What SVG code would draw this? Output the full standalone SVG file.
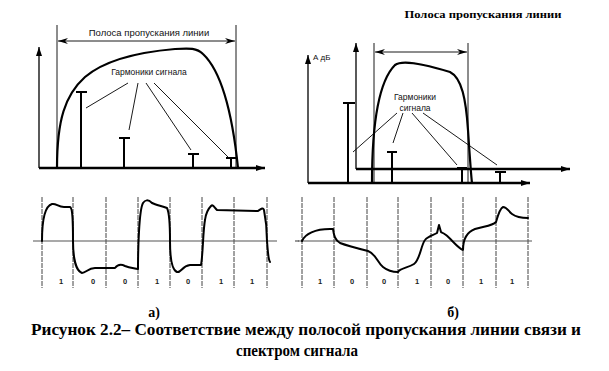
<svg xmlns="http://www.w3.org/2000/svg" width="609" height="371" viewBox="0 0 609 371">
<defs>
<marker id="ah" markerUnits="userSpaceOnUse" markerWidth="9" markerHeight="6" refX="9" refY="3" orient="auto-start-reverse"><path d="M0,0 L9,3 L0,6 z" fill="#000"/></marker>
<marker id="bh" markerUnits="userSpaceOnUse" markerWidth="10" markerHeight="6" refX="10" refY="3" orient="auto-start-reverse"><path d="M0,0 L10,3 L0,6 L3,3 z" fill="#000"/></marker>
<style>
.ax{stroke:#000;stroke-width:1.3;fill:none}
.axt{stroke:#000;stroke-width:2.4;fill:none}
.band{stroke:#000;stroke-width:0.9;fill:none}
.crv{stroke:#000;stroke-width:2.2;fill:none;stroke-linejoin:round;stroke-linecap:round}
.hm{stroke:#000;stroke-width:2;fill:none}
.ld{stroke:#000;stroke-width:0.9;fill:none}
.grid{stroke:#444;stroke-width:1;stroke-dasharray:5,1;fill:none}
.zero{stroke:#555;stroke-width:1.2;fill:none}
.wave{stroke:#000;stroke-width:2;fill:none;stroke-linejoin:round;stroke-linecap:round}
.lbl{font-family:"Liberation Sans",Arial,sans-serif;fill:#111}
.bit{font-family:"Liberation Sans",Arial,sans-serif;font-size:7.5px;fill:#222;text-anchor:middle;font-weight:bold}
.cap{font-family:"Liberation Serif","Times New Roman",serif;font-weight:bold;fill:#000}
</style>
</defs>

<g id="spectrum-a">
<line class="band" x1="57" y1="25" x2="57" y2="168"/>
<line class="band" x1="236" y1="25" x2="236" y2="168"/>
<line class="band" x1="58" y1="41" x2="235" y2="41" marker-start="url(#bh)" marker-end="url(#bh)"/>
<line class="ax" x1="39" y1="168" x2="39" y2="47" marker-end="url(#ah)"/>
<line class="axt" x1="39" y1="168" x2="265" y2="168" marker-end="url(#ah)"/>
<path class="crv" d="M57,168 C57,120 65,95 85,77 C105,60 140,52 175,49 C190,48 197,48 203,54 C220,70 232,110 238,168"/>
<path class="hm" d="M81,168 V92 M76,92 H87 M124,168 V138 M119,138 H130 M193,168 V154 M188,154 H199 M231,168 V158 M226,158 H237"/>
<path class="ld" d="M128,83 L86,108 M138,83 L129,130 M146,83 L191,150 M154,83 L228,157"/>
<text class="lbl" x="149" y="36" font-size="9.5" text-anchor="middle">Полоса пропускания линии</text>
<text class="lbl" x="149" y="75" font-size="8.5" text-anchor="middle">Гармоники сигнала</text>
</g>

<g id="spectrum-b">
<text class="cap" x="483" y="18" font-size="10" text-anchor="middle" textLength="157" lengthAdjust="spacingAndGlyphs">Полоса пропускания линии</text>
<line class="band" x1="374" y1="43" x2="374" y2="183"/>
<line class="band" x1="468" y1="43" x2="468" y2="183"/>
<line class="band" x1="375" y1="52" x2="467" y2="52" marker-start="url(#bh)" marker-end="url(#bh)"/>
<line class="ax" x1="356" y1="169" x2="356" y2="43" marker-end="url(#ah)"/>
<line class="axt" x1="356" y1="169" x2="570" y2="169" marker-end="url(#ah)"/>
<line class="ax" x1="308" y1="183" x2="308" y2="55" marker-end="url(#ah)"/>
<line class="axt" x1="308" y1="183" x2="530" y2="183" marker-end="url(#ah)"/>
<text class="lbl" x="313" y="60" font-size="8">А дБ</text>
<path class="crv" d="M372,183 C372,120 380,80 395,65 C402,60 420,63 450,72 C462,78 466,100 468,130 C470,160 471,175 472,183"/>
<path class="hm" d="M348,183 V103 M343,103 H355 M392,183 V152 M387,152 H397 M462,183 V168 M457,168 H467 M500,183 V172 M495,172 H506"/>
<path class="ld" d="M397,113 L353,152 M403,113 L393,143 M412,113 L457,165 M423,113 L497,165"/>
<text class="lbl" x="415" y="100" font-size="8.5" text-anchor="middle">Гармоники</text>
<text class="lbl" x="415" y="111" font-size="8.5" text-anchor="middle">сигнала</text>
</g>

<g id="wave-a">
<path class="grid" d="M42,197 V288 M73,197 V288 M106,197 V288 M138,197 V288 M170,197 V288 M202,197 V288 M234,197 V288 M267,197 V288"/>
<line class="zero" x1="33" y1="241" x2="277" y2="241"/>
<line class="zero" x1="295" y1="241" x2="299" y2="241"/>
<path class="wave" d="M42,241 C42,220 45,206 52,204 C56,203 58,207 64,207 L70,207 C73,208 73,225 73,241 C73,258 76,271 82,273 C86,273 88,268 95,268 L115,268 C118,264 121,264 125,266 C130,268 134,268 138,269 C138,250 139,210 143,203 C145,200 148,199 152,203 C156,205 162,206 167,208 C170,214 170,230 170,241 C170,258 172,270 177,272 C181,273 182,266 190,265 L201,265 C203,255 203,230 205,220 C206,212 208,209 211,206 C213,204 214,207 217,210 L258,211 C261,209 263,207 264,210 C266,220 267,235 267,241 C268,252 268,259 270,262"/>
<text class="bit" x="61" y="284">1</text>
<text class="bit" x="93" y="284">0</text>
<text class="bit" x="125" y="284">0</text>
<text class="bit" x="157" y="284">1</text>
<text class="bit" x="188" y="284">0</text>
<text class="bit" x="221" y="284">1</text>
<text class="bit" x="252" y="284">1</text>
</g>

<g id="wave-b">
<path class="grid" d="M302,197 V288 M334,197 V288 M367,197 V288 M398,197 V288 M431,197 V288 M463,197 V288 M496,197 V288 M528,197 V288"/>
<line class="zero" x1="298" y1="241" x2="532" y2="241"/>
<path class="wave" d="M302,241 C305,234 315,229 330,229 L333,229 C334,236 335,240 340,243 C348,246 360,249 368,251 C376,254 377,262 383,267 C388,271 393,272 398,272 C400,268 408,268 414,264 C420,260 421,245 425,240 C428,236 434,235 437,233 L439,225 L441,232 C442,233 442,232 446,235 C452,240 458,248 463,250 C463,240 467,232 475,229 C485,226 492,226 496,222 C498,215 500,208 503,207 C507,207 508,211 512,214 C516,217 522,218 528,218"/>
<text class="bit" x="320" y="284">1</text>
<text class="bit" x="352" y="284">0</text>
<text class="bit" x="384" y="284">0</text>
<text class="bit" x="417" y="284">1</text>
<text class="bit" x="448" y="284">0</text>
<text class="bit" x="481" y="284">1</text>
<text class="bit" x="512" y="284">1</text>
</g>

<g id="caption">
<text class="cap" x="154" y="317" font-size="14" text-anchor="middle">а)</text>
<text class="cap" x="453" y="317" font-size="14" text-anchor="middle">б)</text>
<text class="cap" x="31" y="335" font-size="16" textLength="550" lengthAdjust="spacingAndGlyphs">Рисунок 2.2– Соответствие между полосой пропускания линии связи и</text>
<text class="cap" x="297" y="356" font-size="16" text-anchor="middle" textLength="122" lengthAdjust="spacingAndGlyphs">спектром сигнала</text>
</g>
</svg>
